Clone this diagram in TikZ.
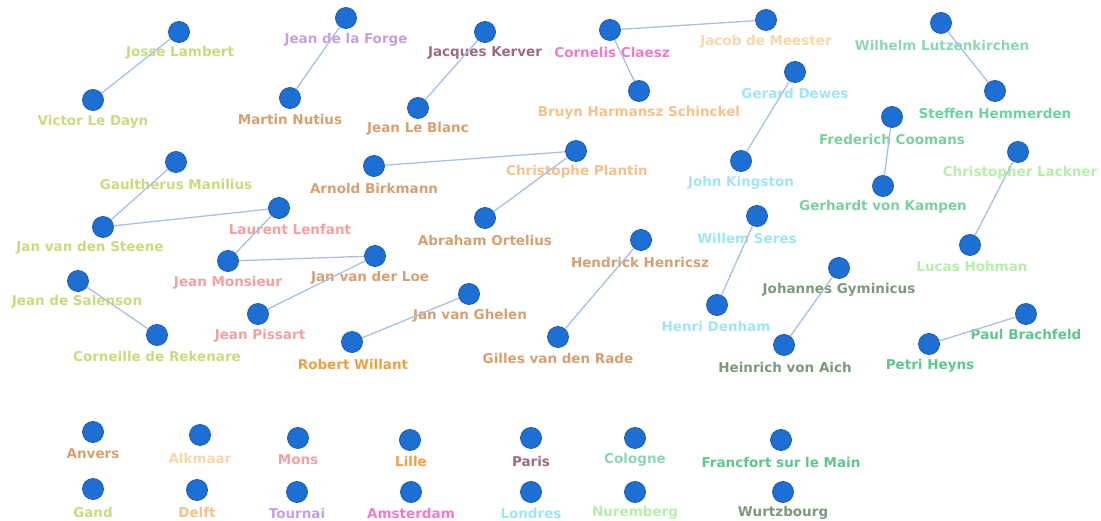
\documentclass[tikz,border=0pt]{standalone}
\usepackage{fontspec}
\setmainfont{DejaVu Sans}
\definecolor{yg}{HTML}{C8DC7C}
\definecolor{lav}{HTML}{C4A0E6}
\definecolor{ob}{HTML}{D8A070}
\definecolor{mauve}{HTML}{9C6A82}
\definecolor{pinkc}{HTML}{F07CC8}
\definecolor{lpeach}{HTML}{F8D8A8}
\definecolor{peach}{HTML}{F4C28A}
\definecolor{mint}{HTML}{8AD8B4}
\definecolor{teal}{HTML}{6CD4A0}
\definecolor{lcyan}{HTML}{9EE6F4}
\definecolor{gteal}{HTML}{7CD0A0}
\definecolor{lgreen}{HTML}{B4F0A8}
\definecolor{salmon}{HTML}{F4A0A0}
\definecolor{orangec}{HTML}{F0A040}
\definecolor{ggreen}{HTML}{7A9A7A}
\definecolor{greenc}{HTML}{5CC88C}
\definecolor{dotfill}{HTML}{1E6FD4}
\definecolor{dotline}{HTML}{1A5CB0}
\definecolor{edgec}{HTML}{A8C0E8}
\tikzset{
  dot/.style={circle,fill=dotfill,draw=dotline,line width=0.8pt,minimum size=21pt,inner sep=0pt},
  lbl/.style={font=\fontsize{13.5}{15}\selectfont\bfseries,inner sep=0pt},
  link/.style={draw=edgec,line width=1.3pt}
}
\newcommand\pn[7]{\node[dot] (#1) at (#2,#3) {}; \node[lbl,text=#6] (#1l) at (#4,#5) {#7};}
\begin{document}
\begin{tikzpicture}[x=1pt,y=-1pt]
\useasboundingbox[fill=white] (0,0) rectangle (1101,521);
\pn{jl}{179}{32}{180}{53}{yg}{Josse Lambert}
\pn{vd}{93}{100}{93}{122}{yg}{Victor Le Dayn}
\pn{jf}{346}{18}{346}{40}{lav}{Jean de la Forge}
\pn{mn}{290}{98}{290}{119}{ob}{Martin Nutius}
\pn{jk}{485}{32}{485}{53}{mauve}{Jacques Kerver}
\pn{jb}{418}{108}{418}{129}{ob}{Jean Le Blanc}
\pn{cc}{610}{30}{612}{52}{pinkc}{Cornelis Claesz}
\pn{jm}{766}{20}{766}{42}{lpeach}{Jacob de Meester}
\pn{bh}{639}{91}{639}{113}{peach}{Bruyn Harmansz Schinckel}
\pn{wl}{941}{23}{942}{45}{mint}{Wilhelm Lutzenkirchen}
\pn{sh}{995}{91}{995}{113}{teal}{Steffen Hemmerden}
\pn{gd}{795}{72}{795}{93}{lcyan}{Gerard Dewes}
\pn{jki}{741}{161}{741}{183}{lcyan}{John Kingston}
\pn{fc}{892}{117}{892}{139}{gteal}{Frederich Coomans}
\pn{gk}{883}{186}{883}{207}{gteal}{Gerhardt von Kampen}
\pn{cl}{1018}{152}{1020}{173}{lgreen}{Christopher Lackner}
\pn{lh}{970}{245}{972}{266}{lgreen}{Lucas Hohman}
\pn{gm}{176}{162}{176}{184}{yg}{Gaultherus Manilius}
\pn{js}{103}{227}{90}{248}{yg}{Jan van den Steene}
\pn{ll}{279}{208}{290}{229}{salmon}{Laurent Lenfant}
\pn{jmo}{228}{261}{228}{283}{salmon}{Jean Monsieur}
\pn{jvl}{375}{256}{370}{278}{ob}{Jan van der Loe}
\pn{jp}{258}{314}{260}{336}{salmon}{Jean Pissart}
\pn{jsa}{78}{281}{77}{302}{yg}{Jean de Salenson}
\pn{cr}{157}{335}{157}{356}{yg}{Corneille de Rekenare}
\pn{ab}{374}{166}{374}{188}{ob}{Arnold Birkmann}
\pn{cp}{576}{151}{577}{172}{peach}{Christophe Plantin}
\pn{ao}{485}{218}{485}{240}{ob}{Abraham Ortelius}
\pn{hh}{641}{240}{640}{262}{ob}{Hendrick Henricsz}
\pn{gr}{558}{337}{558}{358}{ob}{Gilles van den Rade}
\pn{jg}{469}{294}{470}{316}{ob}{Jan van Ghelen}
\pn{rw}{352}{342}{353}{364}{orangec}{Robert Willant}
\pn{ws}{757}{216}{747}{238}{lcyan}{Willem Seres}
\pn{hd}{717}{305}{716}{326}{lcyan}{Henri Denham}
\pn{jgy}{839}{268}{839}{290}{ggreen}{Johannes Gyminicus}
\pn{ha}{784}{345}{785}{367}{ggreen}{Heinrich von Aich}
\pn{pb}{1026}{314}{1026}{334}{greenc}{Paul Brachfeld}
\pn{ph}{929}{344}{930}{366}{greenc}{Petri Heyns}
\pn{anv}{93}{432}{93}{454}{ob}{Anvers}
\pn{alk}{200}{435}{200}{458}{lpeach}{Alkmaar}
\pn{mon}{298}{438}{298}{460}{salmon}{Mons}
\pn{lil}{410}{440}{411}{461}{orangec}{Lille}
\pn{par}{531}{438}{531}{461}{mauve}{Paris}
\pn{col}{635}{438}{635}{460}{mint}{Cologne}
\pn{fra}{781}{440}{781}{462}{greenc}{Francfort sur le Main}
\pn{gan}{93}{489}{93}{512}{yg}{Gand}
\pn{del}{197}{490}{197}{512}{peach}{Delft}
\pn{tou}{297}{492}{297}{513}{lav}{Tournai}
\pn{ams}{411}{492}{411}{513}{pinkc}{Amsterdam}
\pn{lon}{531}{492}{531}{513}{lcyan}{Londres}
\pn{nur}{635}{492}{635}{513}{lgreen}{Nuremberg}
\pn{wur}{783}{492}{783}{513}{ggreen}{Wurtzbourg}
\path[link] (jl) -- (vd);
\path[link] (jf) -- (mn);
\path[link] (jk) -- (jb);
\path[link] (cc) -- (jm);
\path[link] (cc) -- (bh);
\path[link] (wl) -- (sh);
\path[link] (gd) -- (jki);
\path[link] (fc) -- (gk);
\path[link] (cl) -- (lh);
\path[link] (gm) -- (js);
\path[link] (js) -- (ll);
\path[link] (ll) -- (jmo);
\path[link] (jmo) -- (jvl);
\path[link] (jvl) -- (jp);
\path[link] (jsa) -- (cr);
\path[link] (ab) -- (cp);
\path[link] (cp) -- (ao);
\path[link] (hh) -- (gr);
\path[link] (jg) -- (rw);
\path[link] (ws) -- (hd);
\path[link] (jgy) -- (ha);
\path[link] (pb) -- (ph);
\end{tikzpicture}
\end{document}
